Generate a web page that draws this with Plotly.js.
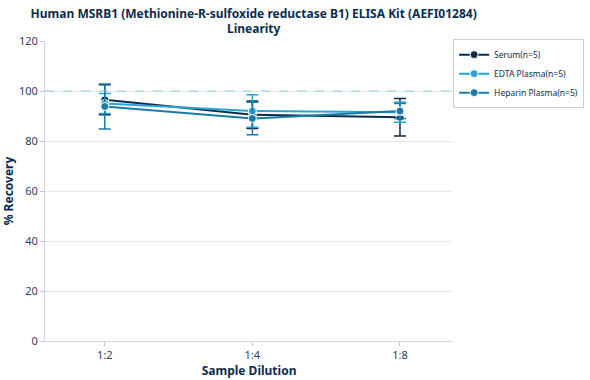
<!DOCTYPE html>
<html><head><meta charset="utf-8">
<script src="https://cdn.plot.ly/plotly-3.0.1.min.js"></script>
<style>body{margin:0;padding:0;}#chart{width:590px;height:380px;}</style>
</head><body><div id="chart"></div>
<script>
const categories = ["1:2", "1:4", "1:8"];
const seriesNames = ["Serum(n=5)", "EDTA Plasma(n=5)", "Heparin Plasma(n=5)"];
const serumValues = [96.5, 90.5, 89.5];
const serumErrors = [6, 5.5, 7.5];
const edtaValues = [95, 92, 91.5];
const edtaErrors = [4, 6.5, 4];
const heparinValues = [93.8, 89, 92];
const heparinErrors = [9, 6.5, 3];
const colors = ["#0b2d4d", "#2aa3d5", "#1a7ba7"];

const vals = [serumValues, edtaValues, heparinValues];
const errs = [serumErrors, edtaErrors, heparinErrors];
const traces = seriesNames.map((n, i) => ({
  type: "scatter", mode: "lines+markers", name: n,
  x: categories, y: vals[i],
  line: {color: colors[i], width: 2},
  marker: {color: colors[i], size: 8, line: {color: "#ffffff", width: 1}},
  error_y: {type: "data", array: errs[i], visible: true, color: colors[i], thickness: 1.5, width: 6}
}));

const layout = {
  width: 590, height: 380,
  margin: {l: 45, r: 130, t: 41, b: 39},
  paper_bgcolor: "#ffffff", plot_bgcolor: "#ffffff",
  font: {family: "Noto Sans, Open Sans, sans-serif", size: 11, color: "#2a3f5f"},
  title: {text: "<b>Human MSRB1 (Methionine-R-sulfoxide reductase B1) ELISA Kit (AEFI01284)<br>Linearity</b>",
    font: {size: 12, color: "#0b2d4d"}, x: 0.43, xanchor: "center", yref: "container", y: 0.953, yanchor: "top"},
  xaxis: {type: "category", range: [-0.405, 2.36], showgrid: false, showline: true, linecolor: "#d0d6de", linewidth: 1,
    ticks: "outside", ticklen: 4, tickcolor: "#c0c8d0", zeroline: false,
    title: {text: "<b>Sample Dilution</b>", font: {size: 12, color: "#0b2d4d"}, standoff: 2}},
  yaxis: {range: [0, 120], dtick: 20, showgrid: true, gridcolor: "#e6eaee", showline: true, linecolor: "#d0d6de",
    ticks: "outside", ticklen: 4, tickcolor: "#c0c8d0", zeroline: false,
    title: {text: "<b>% Recovery</b>", font: {size: 12, color: "#0b2d4d"}, standoff: 14}},
  shapes: [{type: "line", xref: "paper", x0: 0, x1: 1, yref: "y", y0: 100, y1: 100,
    line: {color: "#8fcbe0", width: 1, dash: "dash"}}],
  legend: {xref: "container", yref: "container", x: 0.768, y: 0.897, xanchor: "left", yanchor: "top",
    bordercolor: "#c8d0d8", borderwidth: 1,
    font: {size: 8.5, color: "#0b2d4d"}, tracegroupgap: 0},
  showlegend: true
};
Plotly.newPlot("chart", traces, layout, {displayModeBar: false});
</script></body></html>
